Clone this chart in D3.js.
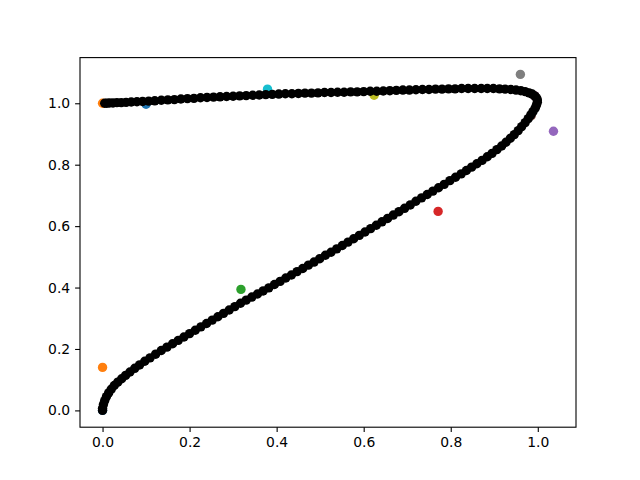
<!DOCTYPE html>
<html><head><meta charset="utf-8">
<script src="https://cdn.jsdelivr.net/npm/d3@7"></script>
<style>body{margin:0;background:#fff}svg{display:block}</style>
</head><body>
<svg id="c" width="640" height="480"></svg>
<script>
// colored control points (x, y)
const ctrlX = [0.000, 0.000, 0.318, 0.771, 1.036, 0.985, 0.993, 0.960, 0.624, 0.379, 0.100, 0.000];
const ctrlY = [0.000, 0.140, 0.394, 0.648, 0.909, 0.960, 1.024, 1.094, 1.026, 1.046, 0.997, 1.000];
const ctrlColors = ["#1f77b4","#ff7f0e","#2ca02c","#d62728","#9467bd","#8c564b","#e377c2","#7f7f7f","#bcbd22","#17becf","#1f77b4","#ff7f0e"];

// black curve points
const curveX = [0.000,0.000,0.002,0.005,0.009,0.014,0.020,0.027,0.035,0.044,0.053,0.063,0.074,0.085,0.097,0.109,0.122,0.135,0.148,0.161,0.174,0.187,0.200,0.213,0.226,0.239,0.252,0.265,0.278,0.291,0.304,0.317,0.330,0.343,0.356,0.369,0.382,0.395,0.408,0.421,0.434,0.447,0.460,0.473,0.486,0.499,0.512,0.525,0.538,0.551,0.564,0.577,0.590,0.603,0.616,0.629,0.642,0.655,0.668,0.681,0.694,0.707,0.720,0.733,0.746,0.759,0.772,0.785,0.798,0.811,0.824,0.836,0.848,0.860,0.872,0.884,0.895,0.906,0.917,0.927,0.937,0.946,0.955,0.963,0.971,0.978,0.984,0.989,0.994,0.997,0.999,0.999,0.997,0.993,0.987,0.980,0.971,0.961,0.950,0.938,0.925,0.912,0.898,0.884,0.870,0.855,0.840,0.825,0.810,0.795,0.780,0.765,0.750,0.735,0.720,0.705,0.690,0.675,0.660,0.645,0.630,0.615,0.600,0.585,0.570,0.555,0.540,0.525,0.510,0.495,0.480,0.465,0.450,0.435,0.420,0.405,0.390,0.375,0.360,0.345,0.330,0.315,0.300,0.285,0.270,0.255,0.240,0.225,0.210,0.195,0.180,0.165,0.150,0.135,0.120,0.106,0.092,0.079,0.066,0.054,0.043,0.033,0.024,0.016,0.010,0.005];
const curveY = [0.000,0.007,0.019,0.032,0.045,0.057,0.069,0.081,0.092,0.103,0.114,0.125,0.137,0.148,0.160,0.171,0.183,0.195,0.206,0.217,0.228,0.239,0.250,0.261,0.272,0.283,0.294,0.305,0.316,0.327,0.338,0.349,0.359,0.369,0.379,0.389,0.399,0.410,0.420,0.431,0.441,0.452,0.462,0.473,0.483,0.494,0.505,0.515,0.526,0.537,0.548,0.559,0.570,0.581,0.592,0.603,0.614,0.625,0.636,0.647,0.658,0.669,0.681,0.692,0.703,0.714,0.725,0.736,0.748,0.759,0.770,0.781,0.792,0.803,0.814,0.826,0.837,0.849,0.861,0.873,0.886,0.898,0.911,0.924,0.937,0.950,0.962,0.973,0.984,0.994,1.003,1.011,1.018,1.024,1.030,1.034,1.038,1.041,1.043,1.045,1.046,1.047,1.048,1.048,1.048,1.048,1.048,1.048,1.047,1.047,1.046,1.046,1.045,1.045,1.044,1.043,1.043,1.042,1.041,1.040,1.039,1.039,1.038,1.037,1.037,1.036,1.036,1.035,1.035,1.034,1.033,1.033,1.032,1.031,1.031,1.030,1.029,1.028,1.027,1.026,1.025,1.024,1.023,1.022,1.021,1.020,1.019,1.018,1.016,1.015,1.014,1.012,1.011,1.010,1.008,1.007,1.006,1.005,1.004,1.003,1.002,1.002,1.001,1.001,1.000,1.000,1.000];

const xTicks = [0.0, 0.2, 0.4, 0.6, 0.8, 1.0];
const yTicks = [0.0, 0.2, 0.4, 0.6, 0.8, 1.0];
const xDomain = [-0.0518, 1.0878];
const yDomain = [-0.0547, 1.1487];

const L = 80, R = 576, T = 57.6, B = 427.2;
const svg = d3.select("#c");
const x = d3.scaleLinear().domain(xDomain).range([L, R]);
const y = d3.scaleLinear().domain(yDomain).range([B, T]);

const clipId = "plotclip";
svg.append("defs").append("clipPath").attr("id", clipId)
  .append("rect").attr("x", L).attr("y", T).attr("width", R - L).attr("height", B - T);

const plot = svg.append("g").attr("clip-path", `url(#${clipId})`);
const rad = 4.7;
plot.selectAll("circle.ctrl").data(ctrlX.map((v, i) => [v, ctrlY[i], ctrlColors[i]]))
  .enter().append("circle").attr("class", "ctrl")
  .attr("cx", d => x(d[0])).attr("cy", d => y(d[1])).attr("r", rad)
  .attr("fill", d => d[2]);
plot.selectAll("circle.curve").data(curveX.map((v, i) => [v, curveY[i]]))
  .enter().append("circle").attr("class", "curve")
  .attr("cx", d => x(d[0])).attr("cy", d => y(d[1])).attr("r", rad)
  .attr("fill", "#000");

const fmt = d3.format(".1f");
const xAxis = svg.append("g").attr("transform", `translate(0,${B})`)
  .call(d3.axisBottom(x).tickValues(xTicks).tickFormat(fmt).tickSize(4.9).tickPadding(4.9));
const yAxis = svg.append("g").attr("transform", `translate(${L},0)`)
  .call(d3.axisLeft(y).tickValues(yTicks).tickFormat(fmt).tickSize(4.9).tickPadding(4.9));
[xAxis, yAxis].forEach(a => {
  a.select(".domain").remove();
  a.selectAll(".tick line").attr("stroke", "#000").attr("stroke-width", 1.1);
  a.selectAll(".tick text").attr("fill", "#000")
    .style("font-family", "DejaVu Sans").style("font-size", "13.9px");
});

svg.append("rect").attr("x", L).attr("y", T).attr("width", R - L).attr("height", B - T)
  .attr("fill", "none").attr("stroke", "#000").attr("stroke-width", 1.1);
</script>
</body></html>
